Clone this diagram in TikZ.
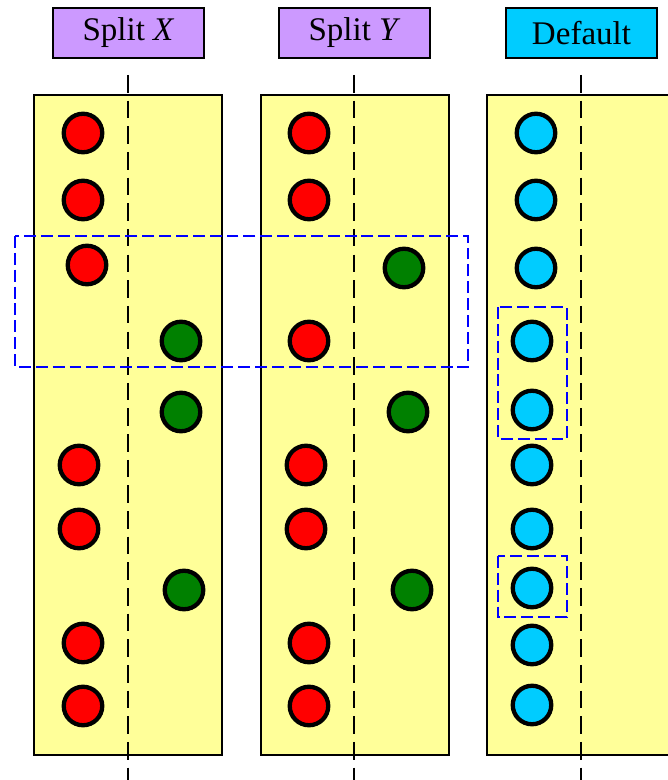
\documentclass[tikz,border=0pt]{standalone}
\usepackage{fontspec}
\setmainfont{Liberation Serif}
\usetikzlibrary{positioning}
\definecolor{PanelYellow}{RGB}{255,255,153}
\definecolor{HeadPurple}{RGB}{204,153,255}
\definecolor{HeadCyan}{RGB}{0,204,255}
\definecolor{DotRed}{RGB}{255,0,0}
\definecolor{DotGreen}{RGB}{0,128,0}
\definecolor{DotCyan}{RGB}{0,204,255}
\tikzset{
  head/.style={draw=black,line width=.8pt,fill=HeadPurple,minimum width=3.02cm,minimum height=1cm,inner sep=0pt,font=\fontsize{18.8}{22}\selectfont},
  panel/.style={draw=black,line width=.8pt,fill=PanelYellow,minimum width=3.76cm,minimum height=13.2cm,inner sep=0pt},
  dot/.style={circle,draw=black,line width=2.45pt,minimum size=.77cm,inner sep=0pt},
  redDot/.style={dot,fill=DotRed},
  greenDot/.style={dot,fill=DotGreen},
  cyanDot/.style={dot,fill=DotCyan},
  divider/.style={draw=black,line width=.8pt,dash pattern=on 10pt off 4.6pt},
  group/.style={draw=blue,line width=.9pt,dash pattern=on 6.8pt off 2.8pt}
}
\begin{document}
\begin{tikzpicture}[x=.02cm,y=-.02cm]
  \clip (0,0) rectangle (668,780);
  % column headers
  \node[head] (headX) at (128.5,33) {Split \textit{X}};
  \node[head] (headY) at (354.5,33) {Split \textit{Y}};
  \node[head,fill=HeadCyan] (headD) at (581.5,33) {Default};
  % panels
  \node[panel] (colX) at (128,425) {};
  \node[panel] (colY) at (355,425) {};
  \node[panel] (colD) at (581,425) {};
  \draw[divider] (128,75) -- (128,780);
  \draw[divider] (354,75) -- (354,780);
  \draw[divider] (581,75) -- (581,780);
  % split X
  \node[redDot] (x1) at (83,133) {};
  \node[redDot] (x2) at (83,200) {};
  \node[redDot] (x3) at (87,265) {};
  \node[greenDot] (x4) at (181,341) {};
  \node[greenDot] (x5) at (181,412) {};
  \node[redDot] (x6) at (79,465) {};
  \node[redDot] (x7) at (79,529) {};
  \node[greenDot] (x8) at (184,590) {};
  \node[redDot] (x9) at (83,643) {};
  \node[redDot] (x10) at (83,706) {};
  % split Y
  \node[redDot] (y1) at (309,133) {};
  \node[redDot] (y2) at (309,200) {};
  \node[greenDot] (y3) at (404,268) {};
  \node[redDot] (y4) at (309,341) {};
  \node[greenDot] (y5) at (408,412) {};
  \node[redDot] (y6) at (306,465) {};
  \node[redDot] (y7) at (306,529) {};
  \node[greenDot] (y8) at (412,590) {};
  \node[redDot] (y9) at (309,643) {};
  \node[redDot] (y10) at (309,706) {};
  % default
  \node[cyanDot] (d1) at (536,133) {};
  \node[cyanDot] (d2) at (536,200) {};
  \node[cyanDot] (d3) at (536,268) {};
  \node[cyanDot] (d4) at (532,341) {};
  \node[cyanDot] (d5) at (532,410) {};
  \node[cyanDot] (d6) at (532,465) {};
  \node[cyanDot] (d7) at (532,529) {};
  \node[cyanDot] (d8) at (532,588) {};
  \node[cyanDot] (d9) at (532,645) {};
  \node[cyanDot] (d10) at (532,705) {};
  % groups
  \draw[group] (15,236) rectangle (468,367);
  \draw[group] (498,307) rectangle (567,439);
  \draw[group] (498,556) rectangle (567,617);
\end{tikzpicture}
\end{document}
